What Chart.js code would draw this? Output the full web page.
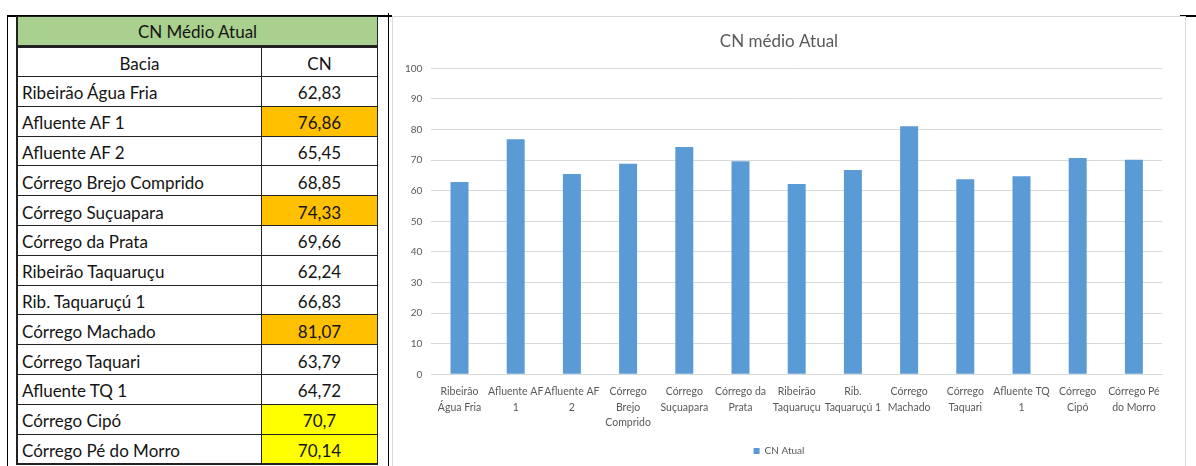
<!DOCTYPE html>
<html>
<head>
<meta charset="utf-8">
<script src="https://cdn.jsdelivr.net/npm/chart.js@4.4.0/dist/chart.umd.min.js"></script>
<style>
  body { margin: 0; width: 1196px; height: 466px; background: #fff; position: relative; overflow: hidden; }
  .rule { position: absolute; background: #000; }
  #cn-table {
    position: absolute; left: 16px; top: 16px; width: 362px;
    border-collapse: collapse; font-family: Lato, sans-serif;
    font-size: 17px; color: #141414;
  }
  #cn-table td { border: 1px solid #222; height: 29.8px; padding: 3px 4px 0 4px; line-height: 1; box-sizing: border-box; }
  #cn-table td.num { text-align: center; width: 116px; }
  #cn-table tr.title td { background: #a9d08e; text-align: center; height: 30px; padding-top: 0; border-bottom: 3px solid #222; }
  #cn-table tr.head td { text-align: center; height: 30px; }
  #cn-table tr td:first-child { border-left: 2px solid #222; }
  #cn-table tr:last-child td { border-bottom: 2px solid #222; }
  #cn-table td.orange { background: #ffc000; }
  #cn-table td.yellow { background: #ffff00; }
  #chart-box { position: absolute; left: 392px; top: 16px; width: 794px; height: 450px; border: 1px solid #d9d9d9; border-bottom: none; box-sizing: border-box; }
</style>
</head>
<body>
<div class="rule" style="left:7px;top:15px;width:1px;height:451px;"></div>
<div class="rule" style="left:7px;top:15px;width:385px;height:2px;"></div>
<div class="rule" style="left:388px;top:13px;width:1px;height:453px;"></div>
<div class="rule" style="left:1180px;top:15px;width:16px;height:2px;"></div>
<table id="cn-table"></table>
<div id="chart-box"><canvas id="cnChart"></canvas></div>
<script>
// --- DADOS ---
const bacias = ['Ribeirão Água Fria', 'Afluente AF 1', 'Afluente AF 2', 'Córrego Brejo Comprido', 'Córrego Suçuapara',
    'Córrego da Prata', 'Ribeirão Taquaruçu', 'Rib. Taquaruçú 1', 'Córrego Machado', 'Córrego Taquari',
    'Afluente TQ 1', 'Córrego Cipó', 'Córrego Pé do Morro'];
const cnTexto = ['62,83', '76,86', '65,45', '68,85', '74,33', '69,66', '62,24', '66,83', '81,07', '63,79', '64,72', '70,7', '70,14'];
const cnAtual = [62.83, 76.86, 65.45, 68.85, 74.33, 69.66, 62.24, 66.83, 81.07, 63.79, 64.72, 70.7, 70.14];
const destaque = ['', 'orange', '', '', 'orange', '', '', '', 'orange', '', '', 'yellow', 'yellow'];
const rotulosX = [['Ribeirão', 'Água Fria'], ['Afluente AF', '1'], ['Afluente AF', '2'], ['Córrego', 'Brejo', 'Comprido'],
    ['Córrego', 'Suçuapara'], ['Córrego da', 'Prata'], ['Ribeirão', 'Taquaruçu'], ['Rib.', 'Taquaruçú 1'],
    ['Córrego', 'Machado'], ['Córrego', 'Taquari'], ['Afluente TQ', '1'], ['Córrego', 'Cipó'], ['Córrego Pé', 'do Morro']];
const yTicks = [0, 10, 20, 30, 40, 50, 60, 70, 80, 90, 100];

// --- TABELA ---
const table = document.getElementById('cn-table');
let html = '<tr class="title"><td colspan="2">CN Médio Atual</td></tr><tr class="head"><td>Bacia</td><td class="num">CN</td></tr>';
bacias.forEach((b, i) => {
    html += `<tr><td>${b}</td><td class="num ${destaque[i]}">${cnTexto[i]}</td></tr>`;
});
table.innerHTML = html;

// --- GRÁFICO ---
const fonte = 'Lato, sans-serif';
new Chart(document.getElementById('cnChart'), {
    type: 'bar',
    data: {
        labels: rotulosX,
        datasets: [{
            label: 'CN Atual', data: cnAtual,
            backgroundColor: '#5b9bd5', borderWidth: 0,
            barPercentage: 0.32, categoryPercentage: 1
        }]
    },
    options: {
        maintainAspectRatio: false, responsive: true, animation: false,
        layout: { padding: { left: 3, right: 23, top: 0, bottom: 0 } },
        plugins: {
            title: { display: true, text: 'CN médio Atual', color: '#595959',
                font: { family: fonte, size: 17, weight: 'normal' },
                padding: { top: 14, bottom: 17 } },
            legend: { position: 'bottom', labels: { color: '#595959', font: { family: fonte, size: 10 }, boxWidth: 6, boxHeight: 6, padding: 5 } },
            tooltip: { enabled: false }
        },
        scales: {
            y: {
                min: 0, max: 100,
                afterBuildTicks: axis => { axis.ticks = yTicks.map(v => ({ value: v })); },
                grid: { color: '#d9d9d9', drawTicks: false }, border: { display: false },
                ticks: { color: '#595959', font: { family: fonte, size: 10 }, padding: 9 }
            },
            x: {
                grid: { display: false }, border: { color: '#d9d9d9' },
                afterFit: scale => { scale.height += 9; },
                ticks: { color: '#595959', font: { family: fonte, size: 10.5, lineHeight: 1.45 }, maxRotation: 0, autoSkip: false, padding: 2 }
            }
        }
    }
});
</script>
</body>
</html>
